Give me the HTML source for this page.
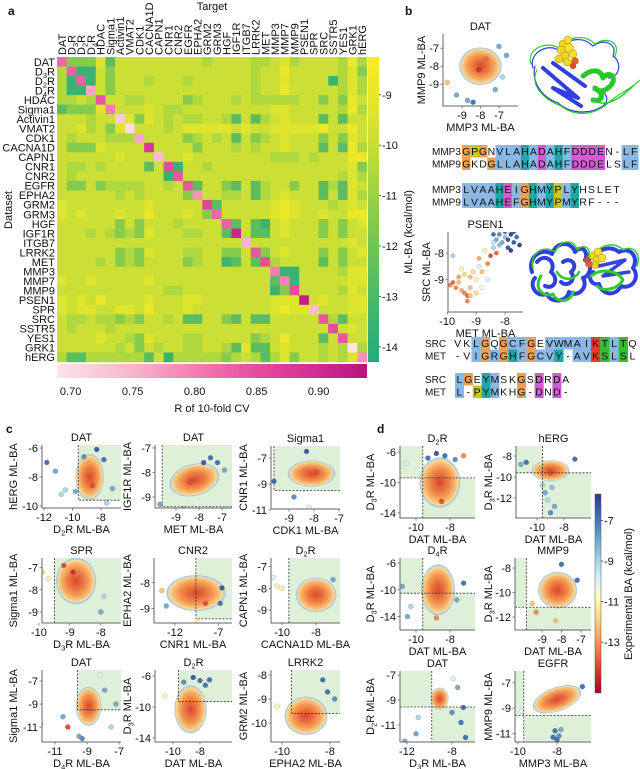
<!DOCTYPE html>
<html><head><meta charset="utf-8"><style>
html,body{margin:0;padding:0;background:#fff}
svg{display:block;font-family:"Liberation Sans",Arial,sans-serif}
</style></head><body>
<svg id="fig" width="640" height="769" viewBox="0 0 640 769" xmlns="http://www.w3.org/2000/svg">
<defs>
<linearGradient id="mlGrad" x1="0" y1="0" x2="0" y2="1">
<stop offset="0" stop-color="#f9ec22"/><stop offset="0.2" stop-color="#dbe430"/><stop offset="0.37" stop-color="#b3d83c"/><stop offset="0.53" stop-color="#86cb4c"/><stop offset="0.7" stop-color="#5fbe5e"/><stop offset="0.86" stop-color="#3fb36e"/><stop offset="1" stop-color="#28ab7c"/>
</linearGradient>
<linearGradient id="rGrad" x1="0" y1="0" x2="1" y2="0">
<stop offset="0" stop-color="#fde3e8"/><stop offset="0.25" stop-color="#f9b3cb"/><stop offset="0.45" stop-color="#f37cb0"/><stop offset="0.65" stop-color="#e54b9e"/><stop offset="0.85" stop-color="#d02a91"/><stop offset="1" stop-color="#b8127f"/>
</linearGradient>
<linearGradient id="baGrad" x1="0" y1="0" x2="0" y2="1">
<stop offset="0" stop-color="#313695"/><stop offset="0.13" stop-color="#4575b4"/><stop offset="0.24" stop-color="#74add1"/><stop offset="0.34" stop-color="#abd9e9"/><stop offset="0.44" stop-color="#e0f3f8"/><stop offset="0.52" stop-color="#ffffbf"/><stop offset="0.6" stop-color="#fee090"/><stop offset="0.7" stop-color="#fdae61"/><stop offset="0.8" stop-color="#f46d43"/><stop offset="0.9" stop-color="#d73027"/><stop offset="1" stop-color="#a50026"/>
</linearGradient>
<radialGradient id="blob">
<stop offset="0" stop-color="#d94a2c"/><stop offset="0.3" stop-color="#e86c3c"/><stop offset="0.6" stop-color="#f39a52"/><stop offset="0.8" stop-color="#f7c27a"/><stop offset="0.9" stop-color="#f4dca0"/><stop offset="0.96" stop-color="#a9c9e2"/><stop offset="1" stop-color="#7ea9d4" stop-opacity="0.5"/>
</radialGradient>
</defs>
<g id="root"></g>
</svg>
<script>
// ---------------- Panel a data ----------------
const heatLabels = ['DAT','D3R','D2R','D4R','HDAC','Sigma1','Activin1','VMAT2','CDK1','CACNA1D','CAPN1','CNR1','CNR2','EGFR','EPHA2','GRM2','GRM3','HGF','IGF1R','ITGB7','LRRK2','MET','MMP3','MMP7','MMP9','PSEN1','SPR','SRC','SSTR5','YES1','GRK1','hERG'];
const levelValues = [-8.9,-9.4,-9.9,-10.6,-11.5,-12.6,-13.6];
const heatLevels = [
[-1,4,4,4,1,5,2,2,2,2,2,2,2,2,2,3,2,2,2,2,3,3,2,1,3,2,2,2,2,3,0,3],
[3,-1,6,6,2,4,2,2,2,2,2,2,2,2,2,2,2,2,2,2,3,2,2,0,2,2,2,2,2,3,1,4],
[3,6,-1,6,2,4,2,2,2,3,2,2,2,3,2,2,2,2,2,2,3,2,2,1,2,2,2,2,6,3,1,3],
[3,6,6,-1,2,4,2,2,2,2,2,2,2,2,2,2,2,2,2,2,3,2,2,0,2,2,2,2,2,3,1,3],
[3,3,2,3,-1,2,2,3,3,2,2,2,2,4,3,2,2,2,3,2,3,3,3,3,3,2,2,4,2,4,0,2],
[5,4,4,4,1,-1,2,2,2,1,2,3,3,2,2,2,2,2,2,2,2,2,1,1,2,2,2,2,2,3,0,3],
[2,2,2,3,2,2,-1,1,4,1,2,3,2,3,3,2,2,3,5,2,5,3,2,1,2,2,2,5,2,5,2,2],
[2,2,1,3,2,4,1,-1,2,2,2,3,2,1,1,1,1,1,2,1,2,2,1,1,1,1,1,0,2,2,0,2],
[2,3,2,2,2,3,3,3,-1,2,2,2,2,4,3,2,3,2,5,2,4,3,2,1,2,2,2,4,2,4,1,2],
[2,4,4,4,1,2,2,2,2,-1,2,2,2,2,4,2,2,2,3,2,3,2,2,1,2,2,2,5,2,5,0,3],
[2,2,2,2,2,2,1,2,2,2,-1,2,2,1,2,2,2,2,2,2,2,2,3,3,3,2,3,2,2,2,0,0],
[2,3,3,2,3,2,2,2,2,5,2,-1,6,2,2,3,2,2,2,2,2,2,2,2,2,2,2,2,2,2,1,4],
[2,3,2,2,2,2,2,2,2,2,2,6,-1,2,2,2,2,2,2,2,2,2,2,2,2,2,2,2,2,3,1,3],
[2,4,4,2,4,3,3,3,3,2,2,3,2,-1,5,2,2,4,5,2,5,3,2,2,4,2,2,5,3,5,1,2],
[2,2,2,2,2,2,3,2,3,2,2,2,2,4,-1,2,2,3,3,2,5,3,2,1,2,2,2,5,2,5,1,3],
[1,2,2,2,2,2,2,2,2,1,2,2,2,2,2,-1,5,2,2,2,2,2,1,0,1,2,2,2,3,2,1,2],
[1,2,1,2,2,2,1,2,2,0,2,2,2,1,2,4,-1,2,2,2,2,2,1,0,1,2,2,1,2,2,0,0],
[2,2,2,2,2,2,4,2,4,2,2,2,3,2,2,2,2,-1,5,2,5,6,2,1,2,2,2,4,2,4,2,1],
[2,2,2,3,2,3,4,3,4,1,2,2,2,3,3,2,2,5,-1,2,5,5,2,1,2,2,2,4,2,4,2,2],
[2,2,2,2,2,2,2,2,2,2,2,2,2,2,2,2,2,2,2,-1,2,2,2,2,2,2,2,2,2,2,1,2],
[2,2,2,2,2,2,4,3,4,1,2,2,2,3,3,2,2,4,4,2,-1,4,2,1,2,2,2,4,2,4,2,1],
[2,2,2,2,3,2,4,3,4,2,2,2,2,4,3,2,2,6,5,2,5,-1,3,2,2,2,2,5,2,4,2,2],
[2,2,2,2,2,2,2,2,2,2,2,2,2,2,2,2,2,2,2,2,2,2,-1,6,6,2,2,2,2,3,1,1],
[1,2,2,1,2,2,2,2,2,1,2,2,2,2,2,2,2,2,2,2,2,2,5,-1,6,2,2,2,2,2,1,1],
[2,2,2,2,2,2,2,2,2,2,2,3,3,2,2,2,2,2,2,2,2,2,6,4,-1,2,2,2,2,3,1,2],
[1,2,1,2,0,2,2,2,2,1,2,2,2,1,1,2,2,2,2,2,2,2,1,1,1,-1,2,1,2,2,1,1],
[1,2,1,1,2,2,1,1,2,0,2,2,2,1,2,2,2,2,2,2,2,2,1,0,1,1,-1,2,2,2,1,1],
[2,3,3,2,3,3,4,3,4,2,2,3,2,5,5,2,2,4,5,2,5,5,2,2,2,2,2,-1,3,5,2,2],
[2,3,2,2,2,3,2,2,2,2,2,2,2,2,2,2,2,2,2,2,2,2,2,2,2,2,2,2,-1,2,1,2],
[2,2,2,2,1,2,2,3,4,1,2,2,2,3,3,2,2,2,2,2,4,3,2,0,2,2,2,5,2,-1,2,2],
[2,2,2,2,2,2,3,2,4,2,3,2,2,3,3,2,2,3,5,1,5,5,2,1,2,2,2,3,2,3,-1,3],
[3,5,5,3,3,3,3,3,3,5,2,6,3,3,3,3,3,4,3,2,3,5,3,1,4,2,2,3,2,3,1,-1]];
const diagR = [0.82,0.83,0.83,0.76,0.84,0.80,0.72,0.70,0.76,0.88,0.74,0.85,0.84,0.84,0.78,0.86,0.82,0.83,0.91,0.75,0.84,0.85,0.80,0.79,0.85,0.92,0.74,0.84,0.85,0.84,0.69,0.78];
const mlTicks = [-9,-10,-11,-12,-13,-14];
const rTicks = [0.70,0.75,0.80,0.85,0.90];

// ---------------- Panel b/c/d scatter data: [x, y, experimental BA] ----------------
const b1Cloud=[-8.0,-8.0,1.15,1.05]; const b1Pts=[[-9.8,-8.9,-12],[-9.3,-9.6,-8],[-8.7,-9.9,-8],[-8.4,-10.0,-7],[-7.2,-9.3,-8],[-6.8,-8.6,-9],[-6.6,-7.4,-8],[-7.0,-6.9,-8],[-8.1,-8.2,-14.5],[-7.7,-7.6,-13.5]];
const b1XT=[-9,-8,-7]; const b1YT=[-7,-8,-9];
const b2Cloud=[-8.6,-8.4,0.0,0.0]; const b2Pts=[[-9.9,-9.2,-13],[-9.8,-9.1,-13.5],[-9.7,-9.3,-13],[-9.6,-9.1,-12],[-9.5,-9.4,-12.5],[-9.4,-9.5,-13],[-9.3,-9.6,-13.5],[-9.2,-9.3,-12],[-9.6,-8.9,-12.5],[-9.4,-8.8,-11.5],[-9.2,-8.9,-12],[-9.0,-9.0,-11],[-9.1,-8.7,-11.5],[-8.9,-8.5,-10],[-8.8,-8.7,-12],[-8.6,-8.4,-13],[-8.9,-8.2,-12.5],[-8.5,-8.1,-14],[-8.7,-7.9,-11],[-8.3,-8.0,-13.5],[-8.4,-7.8,-9],[-9.3,-9.8,-13],[-9.2,-9.6,-12],[-9.0,-9.5,-11.5],[-8.8,-9.3,-10.5],[-9.5,-8.6,-11],[-9.8,-8.1,-9],[-8.6,-9.0,-10],[-8.4,-7.3,-7],[-8.3,-7.5,-8],[-8.2,-7.3,-7.5],[-8.1,-7.6,-8],[-8.0,-7.4,-8.5],[-7.9,-7.5,-6.5],[-7.8,-7.3,-6],[-7.7,-7.6,-6.5],[-7.6,-7.4,-7],[-7.5,-7.7,-6],[-7.9,-7.8,-6.5],[-8.0,-7.2,-7],[-7.8,-7.9,-6],[-8.2,-7.7,-8.5],[-7.7,-7.2,-6.5],[-8.4,-7.6,-9.5]];
const b2XT=[-10,-9,-8]; const b2YT=[-8,-9];
const c1Cloud=[-8.8,-8.0,1.0,1.6]; const c1Pts=[[-11.8,-7.0,-7],[-11.2,-7.6,-8],[-10.5,-8.9,-9],[-10.8,-9.2,-9],[-9.8,-9.0,-8],[-8.5,-10.5,-10],[-9.1,-10.4,-11],[-7.6,-9.8,-9],[-8.3,-6.1,-6.5],[-7.8,-6.8,-7],[-9.2,-6.6,-7.5],[-7.2,-8.8,-8],[-8.6,-8.6,-14]];
const c1XT=[-12,-10,-8]; const c1YT=[-6,-8,-10];
const c2Cloud=[-8.2,-8.3,1.1,0.65]; const c2Pts=[[-9.7,-9.3,-8],[-9.5,-9.55,-7],[-7.2,-7.6,-7],[-6.9,-7.9,-8],[-8.7,-9.5,-8],[-7.5,-7.4,-7],[-7.8,-7.6,-6.5],[-8.4,-8.4,-14]];
const c2XT=[-9,-8,-7]; const c2YT=[-7,-8,-9];
const c3Cloud=[-8.1,-8.2,0.95,1.0]; const c3Pts=[[-9.6,-8.8,-7],[-8.3,-6.5,-6.5],[-8.8,-10.0,-7.5],[-7.9,-11.3,-9],[-8.2,-10.8,-10],[-7.9,-8.1,-14]];
const c3XT=[-9,-8,-7]; const c3YT=[-7,-9,-11];
const c4Cloud=[-8.8,-7.6,0.65,1.05]; const c4Pts=[[-9.9,-7.2,-12],[-9.7,-7.5,-11],[-9.4,-9.7,-8],[-8.0,-9.0,-8],[-7.9,-8.3,-9],[-9.2,-6.9,-14],[-8.9,-7.2,-14.5]];
const c4XT=[-10,-9,-8]; const c4YT=[-7,-8,-9];
const c5Cloud=[-9.6,-8.4,3.4,0.7]; const c5Pts=[[-13.5,-8.3,-12],[-6.8,-8.8,-7],[-9.5,-9.55,-11],[-13.0,-8.9,-8],[-6.6,-8.2,-6.5],[-8.5,-8.8,-14]];
const c5XT=[-12,-7]; const c5YT=[-8,-9];
const c6Cloud=[-8.0,-8.3,1.2,0.8]; const c6Pts=[[-10.5,-7.5,-10],[-10.3,-7.9,-11],[-10.0,-8.0,-11],[-7.0,-7.6,-8]];
const c6XT=[-10,-8]; const c6YT=[-7,-8,-9];
const c7Cloud=[-8.9,-9.2,0.8,1.7]; const c7Pts=[[-11.9,-10.7,-8],[-10.5,-10.1,-8],[-10.2,-11.0,-14],[-9.5,-11.8,-8],[-9.3,-12.0,-7.5],[-7.2,-9.0,-8],[-7.5,-11.0,-9],[-7.9,-7.8,-8],[-8.2,-6.5,-10]];
const c7XT=[-11,-9,-7]; const c7YT=[-7,-9,-11];
const c8Cloud=[-8.7,-10.3,1.2,3.1]; const c8Pts=[[-10.6,-8.5,-11],[-7.3,-6.5,-7],[-8.5,-6.2,-6.5],[-8.0,-6.6,-7],[-9.2,-6.8,-7.5],[-7.6,-7.2,-7]];
const c8XT=[-10,-8]; const c8YT=[-6,-10,-14];
const c9Cloud=[-9.0,-9.7,0.9,0.8]; const c9Pts=[[-11.0,-9.8,-14],[-10.2,-9.3,-11],[-8.1,-8.7,-7],[-7.8,-9.0,-7.5],[-8.3,-8.2,-7]];
const c9XT=[-10,-8]; const c9YT=[-8,-9,-10];
const d1Cloud=[-8.6,-10.0,1.2,3.3]; const d1Pts=[[-8.8,-6.2,-6.5],[-8.3,-6.5,-7],[-9.3,-6.8,-7],[-7.7,-7.0,-7.5],[-7.2,-6.5,-13],[-10.6,-7.5,-10],[-8.5,-12.5,-14]];
const d1XT=[-10,-8]; const d1YT=[-6,-10,-14];
const d2Cloud=[-9.0,-9.4,1.4,1.0]; const d2Pts=[[-11.2,-8.8,-8],[-10.8,-8.6,-7],[-7.2,-8.3,-7],[-9.4,-11.5,-8],[-9.2,-12.2,-9],[-8.9,-11.0,-8.5],[-9.6,-10.8,-9],[-8.7,-12.8,-8],[-9.0,-13.4,-7.5],[-9.0,-9.6,-14]];
const d2XT=[-10,-8]; const d2YT=[-8,-10,-12];
const d3Cloud=[-8.7,-10.0,1.0,3.8]; const d3Pts=[[-10.8,-9.5,-8],[-10.3,-12.5,-9],[-10.5,-14.0,-8],[-7.2,-9.0,-7],[-7.6,-11.5,-8],[-8.8,-14.2,-13]];
const d3XT=[-10,-8]; const d3YT=[-6,-10,-14];
const d4Cloud=[-8.2,-9.8,1.0,1.5]; const d4Pts=[[-9.5,-10.9,-12],[-9.3,-11.6,-13],[-7.2,-9.0,-7],[-8.3,-12.3,-12],[-8.0,-7.7,-7]];
const d4XT=[-9,-8,-7]; const d4YT=[-8,-10,-12];
const d5Cloud=[-9.1,-8.9,0.8,0.9]; const d5Pts=[[-12.2,-12.3,-8],[-11.2,-11.7,-8],[-11.0,-10.4,-9],[-7.2,-10.8,-7],[-6.8,-12.0,-7],[-7.5,-8.0,-8],[-7.0,-9.6,-7],[-7.9,-7.3,-10],[-8.0,-10.0,-7.5]];
const d5XT=[-12,-8]; const d5YT=[-7,-9,-11];
const d6Cloud=[-8.0,-8.3,1.3,0.95]; const d6Pts=[[-8.1,-10.8,-7],[-7.9,-11.2,-7.5],[-8.2,-11.3,-7],[-7.8,-10.7,-8],[-8.0,-11.5,-7],[-6.7,-7.3,-7],[-9.8,-9.2,-10]];
const d6XT=[-10,-8]; const d6YT=[-7,-9,-11];

// ---------------- helpers ----------------
const NS='http://www.w3.org/2000/svg';
const root=document.getElementById('root');
function mk(tag,attrs,parent){const e=document.createElementNS(NS,tag);for(const k in attrs)e.setAttribute(k,attrs[k]);(parent||root).appendChild(e);return e;}
function lerpHex(a,b,t){const pa=[1,3,5].map(i=>parseInt(a.substr(i,2),16)),pb=[1,3,5].map(i=>parseInt(b.substr(i,2),16));return 'rgb('+pa.map((v,i)=>Math.round(v+(pb[i]-v)*t)).join(',')+')';}
function ramp(stops,v){if(v<=stops[0][0])return stops[0][1];for(let i=1;i<stops.length;i++){if(v<=stops[i][0]){const t=(v-stops[i-1][0])/(stops[i][0]-stops[i-1][0]);return lerpHex(stops[i-1][1],stops[i][1],t);}}return stops[stops.length-1][1];}
const mlStops=[[-14.3,'#28ab7c'],[-13.5,'#3fb36e'],[-12.5,'#5fbe5e'],[-11.5,'#86cb4c'],[-10.5,'#b3d83c'],[-9.5,'#dbe430'],[-8.3,'#f9ec22']];
const rStops=[[0.69,'#fde3e8'],[0.75,'#f9b3cb'],[0.80,'#f37cb0'],[0.85,'#e54b9e'],[0.90,'#d02a91'],[0.94,'#b8127f']];
const baStops=[[-15.5,'#a50026'],[-14.5,'#d73027'],[-13.5,'#f46d43'],[-12.5,'#fdae61'],[-11.5,'#fee090'],[-10.8,'#ffffbf'],[-10,'#e0f3f8'],[-9,'#abd9e9'],[-8,'#74add1'],[-7,'#4575b4'],[-5.7,'#313695']];
function labelHTML(s){const m=s.match(/^D(\d)R$/);return m?'D<tspan font-size="7.5" dy="2.5">'+m[1]+'</tspan><tspan dy="-2.5">R</tspan>':s;}
function txt(x,y,s,attrs,parent){const t=mk('text',Object.assign({x:x,y:y,'font-size':11,fill:'#111'},attrs||{}),parent);t.innerHTML=s;return t;}

// panel letters
[['a',8,15],['b',405,15],['c',6,433],['d',377,433]].forEach(p=>{
  const t=txt(p[1],p[2],p[0],{'font-weight':'bold','font-size':12});
  
  
});

// ---------------- Panel a heatmap ----------------
const HL=57,HR=367,HT=57,HB=362,n=heatLabels.length;
const cw=(HR-HL)/n,ch=(HB-HT)/n;
const gHeat=mk('g',{});


heatLevels.forEach((row,i)=>{
  for(let j=0;j<n;j++){
    const lv=row[j]===undefined?2:row[j];
    const fill=lv<0?ramp(rStops,diagR[i]):ramp(mlStops,levelValues[lv]);
    const r=mk('rect',{x:(HL+j*cw).toFixed(2),y:(HT+i*ch).toFixed(2),width:(cw+0.3).toFixed(2),height:(ch+0.3).toFixed(2),fill:fill},gHeat);
    
    
  }
});
heatLabels.forEach((s,i)=>{
  const t=txt(55,HT+i*ch+ch/2+4,labelHTML(s),{'text-anchor':'end','font-size':11});
  
  
  const cx=HL+i*cw+cw/2+4;
  const c=txt(cx,55,labelHTML(s),{'font-size':11,transform:'rotate(-90 '+cx+' 55)'});
  
  
});
let tt=txt(212,10,'Target',{'text-anchor':'middle','font-size':11});


tt=txt(12,210,'Dataset',{'text-anchor':'middle','font-size':11,transform:'rotate(-90 12 210)'});


// ML-BA colorbar
const mlTop=-8.25,mlBot=-14.3;
const mlY=v=>HT+(v-mlTop)/(mlBot-mlTop)*(HB-HT);
let cb=mk('rect',{x:368,y:HT,width:11,height:HB-HT,fill:'url(#mlGrad)'});


mlTicks.forEach(v=>{
  mk('line',{x1:379,x2:381,y1:mlY(v),y2:mlY(v),stroke:'#333','stroke-width':0.8});
  const t=txt(382,mlY(v)+4,String(v),{'font-size':11});
  
  
});
tt=txt(412,232,'ML-BA (kcal/mol)',{'text-anchor':'middle','font-size':11,transform:'rotate(-90 412 232)'});


// R colorbar
const rLo=0.689,rHi=0.939;
const rX=v=>HL+(v-rLo)/(rHi-rLo)*(HR-HL);
cb=mk('rect',{x:HL,y:364,width:HR-HL,height:14,fill:'url(#rGrad)'});


rTicks.forEach(v=>{
  const t=txt(rX(v),395,v.toFixed(2),{'text-anchor':'middle','font-size':11});
  
  
});
tt=txt(212,412,'R of 10-fold CV',{'text-anchor':'middle','font-size':11});



// ---------------- scatter plots ----------------
let clipId=0;
function scatter(cfg){
  const g=mk('g',{});
  
  
  const {L,R,T,B}=cfg;
  const sx=v=>L+(v-cfg.xd[0])/(cfg.xd[1]-cfg.xd[0])*(R-L);
  const sy=v=>B-(v-cfg.yd[0])/(cfg.yd[1]-cfg.yd[0])*(B-T);
  const id='clip'+(clipId++);
  const cp=mk('clipPath',{id:id},g);mk('rect',{x:L,y:T,width:R-L,height:B-T},cp);
  const inner=mk('g',{'clip-path':'url(#'+id+')'},g);
  const vx=cfg.tx!==undefined?sx(cfg.tx):0, hy=cfg.ty!==undefined?sy(cfg.ty):0;
  if(cfg.mode==='c'){
    const gr=mk('rect',{x:vx,y:T,width:R-vx,height:hy-T,fill:'#dff0d8'},inner);
    
    
  } else if(cfg.mode==='d'){
    const g1=mk('rect',{x:L,y:T,width:vx-L,height:hy-T,fill:'#dff0d8'},inner);
    
    
    const g2=mk('rect',{x:vx,y:hy,width:R-vx,height:B-hy,fill:'#dff0d8'},inner);
    
    
  }
  const c=cfg.cloud;
  if(c[2]>0){
    const e=mk('ellipse',{cx:sx(c[0]),cy:sy(c[1]),rx:Math.abs(sx(c[0]+c[2])-sx(c[0])),ry:Math.abs(sy(c[1]+c[3])-sy(c[1])),fill:'url(#blob)',transform:'rotate('+(cfg.rot||0)+' '+sx(c[0])+' '+sy(c[1])+')'},inner);
    
    
  }
  cfg.pts.forEach(p=>{
    const d=mk('circle',{cx:sx(p[0]),cy:sy(p[1]),r:cfg.r||2.5,fill:ramp(baStops,p[2]),stroke:'rgba(70,70,70,0.45)','stroke-width':0.4},inner);
    
    
  });
  if(cfg.mode==='c'){
    mk('path',{d:'M'+vx+','+T+'V'+hy+'H'+R,fill:'none',stroke:'#333','stroke-width':0.8,'stroke-dasharray':'2,1.5'},inner);
  } else if(cfg.mode==='d'){
    mk('path',{d:'M'+vx+','+T+'V'+B+'M'+L+','+hy+'H'+R,fill:'none',stroke:'#333','stroke-width':0.8,'stroke-dasharray':'2,1.5'},inner);
  }
  mk('path',{d:'M'+L+','+T+'V'+B+'H'+R,fill:'none',stroke:'#666','stroke-width':1},g);
  cfg.xt.forEach(v=>{
    mk('line',{x1:sx(v),x2:sx(v),y1:B,y2:B+2.5,stroke:'#666','stroke-width':0.8},g);
    const t=txt(sx(v),B+13,String(v),{'text-anchor':'middle'},g);
    
    
  });
  cfg.yt.forEach(v=>{
    mk('line',{x1:L-2.5,x2:L,y1:sy(v),y2:sy(v),stroke:'#666','stroke-width':0.8},g);
    const t=txt(L-4,sy(v)+4,String(v),{'text-anchor':'end'},g);
    
    
  });
  let t=txt((L+R)/2,T-4,cfg.title,{'text-anchor':'middle'},g);
  
  
  t=txt((L+R)/2,B+25,cfg.xl,{'text-anchor':'middle'},g);
  
  
  const yx=cfg.ylx||L-25, yc=(T+B)/2;
  t=txt(yx,yc,cfg.yl,{'text-anchor':'middle',transform:'rotate(-90 '+yx+' '+yc+')'},g);
  
  
}
const Dsub=(k)=>'D<tspan font-size="7.5" dy="2.5">'+k+'</tspan><tspan dy="-2.5">R</tspan>';
scatter({name:'scatter-b-dat',L:443,R:518,T:34,B:106,xd:[-10.03,-5.97],yd:[-10.21,-6.21],mode:'n',cloud:b1Cloud,pts:b1Pts,xt:b1XT,yt:b1YT,title:'DAT',xl:'MMP3 ML-BA',yl:'MMP9 ML-BA',ylx:425});
scatter({name:'scatter-b-psen1',L:448,R:523,T:232,B:312,xd:[-9.97,-7.38],yd:[-10.21,-7.21],mode:'n',cloud:b2Cloud,pts:b2Pts,xt:b2XT,yt:b2YT,title:'PSEN1',xl:'MET ML-BA',yl:'SRC ML-BA',ylx:430,r:2.2});
scatter({name:'scatter-c1',L:42,R:121,T:445,B:508,xd:[-12.14,-6.6],yd:[-10.14,-5.79],mode:'c',tx:-9.6,ty:-9.6,cloud:c1Cloud,pts:c1Pts,xt:c1XT,yt:c1YT,title:'DAT',xl:Dsub(2)+' ML-BA',yl:'hERG ML-BA',ylx:17});
scatter({name:'scatter-c2',L:155,R:232,T:445,B:508,xd:[-9.91,-6.57],yd:[-9.45,-6.88],mode:'c',tx:-9.6,ty:-9.4,cloud:c2Cloud,pts:c2Pts,xt:c2XT,yt:c2YT,title:'DAT',xl:'MET ML-BA',yl:'IGF1R ML-BA',ylx:131,rot:-15});
scatter({name:'scatter-c3',L:271,R:340,T:446,B:509,xd:[-9.72,-6.96],yd:[-10.92,-6.08],mode:'c',tx:-9.6,ty:-9.5,cloud:c3Cloud,pts:c3Pts,xt:c3XT,yt:c3YT,title:'Sigma1',xl:'CDK1 ML-BA',yl:'CNR1 ML-BA',ylx:247});
scatter({name:'scatter-c4',L:42,R:121,T:558,B:623,xd:[-9.9,-7.35],yd:[-9.5,-6.56],mode:'c',tx:-9.5,ty:-9.5,cloud:c4Cloud,pts:c4Pts,xt:c4XT,yt:c4YT,title:'SPR',xl:Dsub(3)+' ML-BA',yl:'Sigma1 ML-BA',ylx:17});
scatter({name:'scatter-c5',L:154,R:232,T:558,B:623,xd:[-14.41,-5.45],yd:[-9.56,-7.04],mode:'c',tx:-9.6,ty:-9.4,cloud:c5Cloud,pts:c5Pts,xt:c5XT,yt:c5YT,title:'CNR2',xl:'CNR1 ML-BA',yl:'EPHA2 ML-BA',ylx:131});
scatter({name:'scatter-c6',L:271,R:340,T:558,B:623,xd:[-10.65,-6.59],yd:[-9.6,-6.6],mode:'c',tx:-9.6,ty:-9.6,cloud:c6Cloud,pts:c6Pts,xt:c6XT,yt:c6YT,title:Dsub(2),xl:'CACNA1D ML-BA',yl:'CAPN1 ML-BA',ylx:247});
scatter({name:'scatter-c7',L:42,R:121,T:670,B:742,xd:[-11.81,-6.88],yd:[-12.3,-6.04],mode:'c',tx:-9.6,ty:-9.5,cloud:c7Cloud,pts:c7Pts,xt:c7XT,yt:c7YT,title:'DAT',xl:Dsub(4)+' ML-BA',yl:'Sigma1 ML-BA',ylx:17});
scatter({name:'scatter-c8',L:155,R:232,T:670,B:742,xd:[-11.33,-5.63],yd:[-14.52,-5.23],mode:'c',tx:-9.6,ty:-9.3,cloud:c8Cloud,pts:c8Pts,xt:c8XT,yt:c8YT,title:Dsub(2),xl:'DAT ML-BA',yl:Dsub(3)+' ML-BA',ylx:131});
scatter({name:'scatter-c9',L:271,R:340,T:670,B:742,xd:[-10.46,-7.58],yd:[-10.79,-7.79],mode:'c',tx:-9.6,ty:-9.6,cloud:c9Cloud,pts:c9Pts,xt:c9XT,yt:c9YT,title:'LRRK2',xl:'EPHA2 ML-BA',yl:'GRM2 ML-BA',ylx:247});
scatter({name:'scatter-d1',L:400,R:475,T:446,B:518,xd:[-10.94,-6.53],yd:[-14.68,-5.21],mode:'d',tx:-9.6,ty:-9.4,cloud:d1Cloud,pts:d1Pts,xt:d1XT,yt:d1YT,title:Dsub(2),xl:'DAT ML-BA',yl:Dsub(3)+' ML-BA',ylx:374});
scatter({name:'scatter-d2',L:516,R:591,T:446,B:518,xd:[-11.56,-6.0],yd:[-13.9,-7.05],mode:'d',tx:-9.6,ty:-9.6,cloud:d2Cloud,pts:d2Pts,xt:d2XT,yt:d2YT,title:'hERG',xl:'DAT ML-BA',yl:Dsub(3)+' ML-BA',ylx:492});
scatter({name:'scatter-d3',L:400,R:475,T:558,B:630,xd:[-10.94,-6.53],yd:[-16.0,-5.25],mode:'d',tx:-9.6,ty:-10.5,cloud:d3Cloud,pts:d3Pts,xt:d3XT,yt:d3YT,title:Dsub(4),xl:'DAT ML-BA',yl:Dsub(3)+' ML-BA',ylx:374});
scatter({name:'scatter-d4',L:515,R:591,T:558,B:630,xd:[-10.38,-6.49],yd:[-13.06,-7.18],mode:'d',tx:-9.8,ty:-11.2,cloud:d4Cloud,pts:d4Pts,xt:d4XT,yt:d4YT,title:'MMP9',xl:'DAT ML-BA',yl:Dsub(3)+' ML-BA',ylx:492});
scatter({name:'scatter-d5',L:400,R:475,T:671,B:742,xd:[-12.62,-5.96],yd:[-12.36,-6.68],mode:'d',tx:-9.8,ty:-9.56,cloud:d5Cloud,pts:d5Pts,xt:d5XT,yt:d5YT,title:'DAT',xl:Dsub(3)+' ML-BA',yl:Dsub(2)+' ML-BA',ylx:374});
scatter({name:'scatter-d6',L:515,R:591,T:671,B:742,xd:[-10.15,-6.26],yd:[-11.68,-6.06],mode:'d',tx:-9.7,ty:-9.57,cloud:d6Cloud,pts:d6Pts,xt:d6XT,yt:d6YT,title:'EGFR',xl:'MMP3 ML-BA',yl:'MMP9 ML-BA',ylx:492,rot:-20});

// Experimental BA colorbar
const baTop=-5.7,baBot=-15.5,bT=494,bB=693;
const baY=v=>bT+(v-baTop)/(baBot-baTop)*(bB-bT);
cb=mk('rect',{x:595,y:bT,width:6,height:bB-bT,fill:'url(#baGrad)',stroke:'#555','stroke-width':0.5});


[-7,-9,-11,-13].forEach(v=>{
  mk('line',{x1:601,x2:603,y1:baY(v),y2:baY(v),stroke:'#333','stroke-width':0.8});
  const t=txt(604,baY(v)+4,String(v),{'font-size':11});
  
  
});
tt=txt(632,594,'Experimental BA (kcal/mol)',{'text-anchor':'middle','font-size':11,transform:'rotate(-90 632 594)'});



// ---------------- sequence alignments ----------------
const seqColors={o:'#f0a050',y:'#c8c81e',b:'#8ab8e6',t:'#20a8a8',m:'#d45ad4',r:'#e04030',g:'#30c030'};
function seqRow(name,label,seq,codes,lx,x0,y,dx){
  const g=mk('g',{});
  
  
  txt(lx,y+4,label,{'font-size':10},g);
  for(let i=0;i<seq.length;i++){
    const c=codes[i];
    if(seqColors[c])mk('rect',{x:x0+i*dx,y:y-6,width:dx+0.2,height:12.5,fill:seqColors[c]},g);
    txt(x0+i*dx+dx/2,y+4,seq[i],{'font-size':10.5,'text-anchor':'middle'},g);
  }
}
seqRow('alignment-mmp3-1','MMP3','GPGNVLAHADAHFDDDEN-LF','oyo.bbbtbmbtbmmmm..bb',432,462,151,8.4);
seqRow('alignment-mmp9-1','MMP9','GKDGLLAHADAHFDDDELSLF','o..obbbtbmbtbmmmm..bb',432,462,163.5,8.4);
seqRow('alignment-mmp3-2','MMP3','LVAAHEIGHMYPLYHSLET','bbbbtmbotbtybt.....',432,462,189,8.35);
seqRow('alignment-mmp9-2','MMP9','LVAAHEFGHMYPMYRF---','bbbbtmbotbtybt.....',432,462,201.5,8.35);
seqRow('alignment-src-1','SRC','VKLGQGCFGEVWMAIKTLTQ','..bo.obbo.bbbbbrgbg.',425,453,343,9.2);
seqRow('alignment-met-1','MET','-VIGRGHFGCVY-AVKSLSL','..bobotbobbt.bbrgbg.',425,453,355.5,9.2);
seqRow('alignment-src-2','SRC','LGEYMSKGSDRDA','bo.tb..o.m.m.',425,455,379,8.85);
seqRow('alignment-met-2','MET','L-PYMKHG-DND-','b.ytb..o.m.m.',425,455,391.5,8.85);

// ---------------- protein structure cartoons ----------------
function protein(name,ox,oy,sc,paths,spheres){
  const g=mk('g',{transform:'translate('+ox+','+oy+') scale('+sc+')'});
  
  
  paths.forEach(p=>mk('path',{d:p[0],fill:'none',stroke:p[1],'stroke-width':p[2],'stroke-linejoin':'round','stroke-linecap':'round'},g));
  spheres.forEach(s=>mk('circle',{cx:s[0],cy:s[1],r:s[2],fill:s[3],stroke:'#8a6a00','stroke-width':0.4},g));
}
protein('protein-structure-mmp',523,28,1,[
 ['M10,40 C5,25 25,15 35,22 C45,10 60,8 70,18 C80,10 95,15 90,28 C100,35 96,50 85,50',"#2f3fe0",1.2],
 ['M12,38 C8,55 20,70 35,75 C50,88 70,85 80,78 C90,70 78,58 70,62',"#2f3fe0",1.2],
 ['M20,40 L55,70 L30,60 L58,78',"#2f3fe0",4],
 ['M30,35 L62,58',"#3040d8",4],
 ['M8,36 C3,22 22,12 36,20 C46,8 62,6 72,16 C84,8 98,14 92,28',"#2ccc2c",1.2],
 ['M14,42 C6,58 22,72 38,78 C54,90 72,86 84,76 C94,66 110,60 117,52',"#2ccc2c",1.2],
 ['M60,48 C70,40 78,42 80,50 C84,44 92,46 90,54 C86,62 76,66 72,60 C82,66 80,74 70,72',"#28c828",5],
 ['M70,72 C82,80 96,72 110,58',"#28c828",1.5]
],[[40,16,4,'#f2d81c'],[45,12,4,'#f7e02a'],[38,22,4,'#f2d81c'],[46,20,4.5,'#f7e02a'],[42,28,4,'#f2d81c'],[50,26,4,'#f7e02a'],[36,31,4,'#eed41a'],[44,34,4,'#f2d81c'],[52,33,3.5,'#e85a3a'],[50,38,3,'#e04a30']]);
protein('protein-structure-kinase',527,232,1,[
 ['M5,40 C0,25 15,15 25,22 C30,8 45,10 48,20 C55,12 62,20 58,28 C66,30 64,44 56,46 C62,56 50,66 42,60 C40,70 24,72 20,62 C8,66 2,52 8,46',"#2f3fe0",4],
 ['M10,30 C18,20 30,30 24,40 C32,46 28,58 18,54',"#2f3fe0",4],
 ['M36,30 C44,24 52,34 44,40 C50,48 40,56 34,50',"#2f3fe0",4],
 ['M60,30 C70,18 82,12 92,20 C104,14 112,26 106,36 C114,46 104,58 94,54 C88,66 74,62 72,52 C64,54 60,44 66,40',"#2f3fe0",4],
 ['M72,34 L98,28 L76,44 L102,40',"#3545e0",3.5],
 ['M6,36 C2,22 16,12 28,20 C34,6 48,8 50,18 C58,10 66,18 60,26',"#2ccc2c",1.5],
 ['M14,44 C6,56 16,66 26,62 C30,72 44,70 46,60',"#2ccc2c",3],
 ['M62,26 C72,14 86,8 96,18 C108,12 114,24 110,34',"#2ccc2c",1.5],
 ['M64,44 C74,36 90,38 96,48 C90,58 76,60 70,54',"#2ccc2c",3],
 ['M30,40 C36,50 48,48 52,40',"#2ccc2c",2.5]
],[[66,24,4,'#f2d81c'],[71,20,4,'#f7e02a'],[70,28,4,'#f2d81c'],[75,26,4,'#f7e02a'],[68,33,3.5,'#eed41a'],[62,32,3.5,'#e85a3a'],[60,28,3,'#e04a30']]);
</script>
</body></html>
